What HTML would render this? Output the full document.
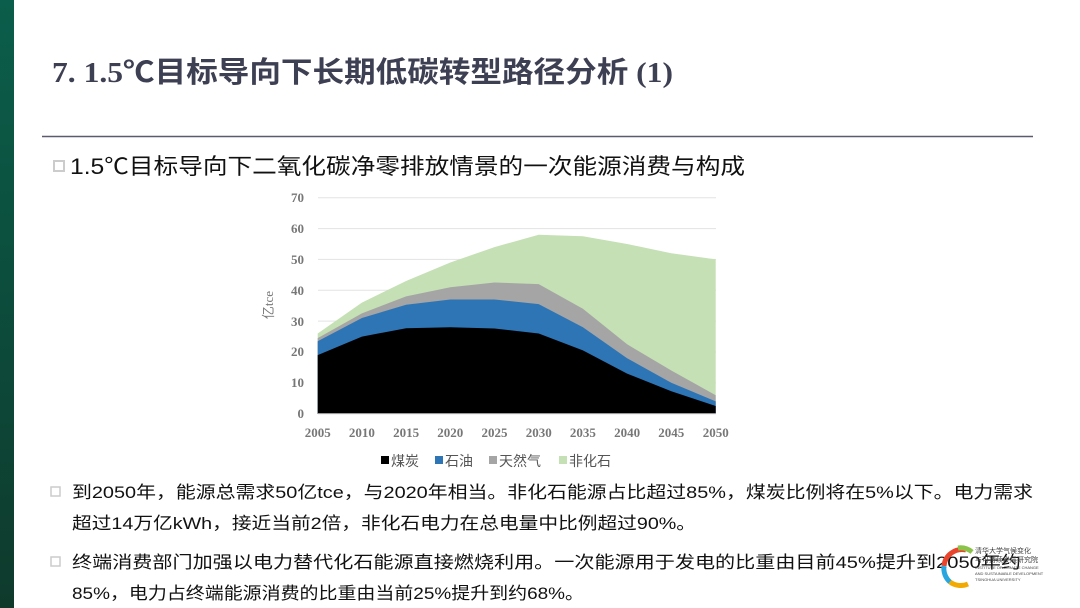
<!DOCTYPE html>
<html><head><meta charset="utf-8"><style>
html,body{margin:0;padding:0;background:#fff;}
svg{display:block;}
.cj{font-family:"Liberation Sans","Noto Sans CJK SC",sans-serif;}
.sf{font-family:"Liberation Serif","Noto Sans CJK SC",serif;}
</style></head><body>
<svg width="1080" height="608" viewBox="0 0 1080 608" xmlns="http://www.w3.org/2000/svg">
<defs><linearGradient id="g" x1="0" y1="0" x2="0" y2="1"><stop offset="0" stop-color="#0b5e4b"/><stop offset="1" stop-color="#0e3a2c"/></linearGradient></defs>
<rect x="0" y="0" width="14" height="608" fill="url(#g)"/>
<text class="sf" x="52" y="82" font-size="29" font-weight="bold" fill="#3d3f52" textLength="621" lengthAdjust="spacingAndGlyphs">7. 1.5℃目标导向下长期低碳转型路径分析 (1)</text>
<line x1="42" y1="136.5" x2="1033" y2="136.5" stroke="#5a5c6e" stroke-width="1.5"/>
<rect x="54" y="161" width="10" height="10" fill="none" stroke="#ccc" stroke-width="2"/>
<text class="cj" x="70" y="174" font-size="22" fill="#111" textLength="675" lengthAdjust="spacingAndGlyphs">1.5℃目标导向下二氧化碳净零排放情景的一次能源消费与构成</text>
<g stroke="#e3e3e3" stroke-width="1">
<line x1="318" y1="197.7" x2="716" y2="197.7"/><line x1="318" y1="228.6" x2="716" y2="228.6"/>
<line x1="318" y1="259.4" x2="716" y2="259.4"/><line x1="318" y1="290.3" x2="716" y2="290.3"/>
<line x1="318" y1="321.1" x2="716" y2="321.1"/><line x1="318" y1="352" x2="716" y2="352"/>
<line x1="318" y1="382.9" x2="716" y2="382.9"/>
</g>
<polygon fill="#c5e0b4" points="317.7,413.7 317.7,333.5 361.9,302.6 406.1,281 450.3,262.5 494.5,247.1 538.7,234.7 582.9,236.3 627.1,244 671.3,253.2 715.7,259.4 715.7,413.7"/>
<polygon fill="#a5a5a5" points="317.7,413.7 317.7,338.1 361.9,313.4 406.1,296.4 450.3,287.2 494.5,282.5 538.7,284.1 582.9,308.8 627.1,344.3 671.3,370.5 715.7,395.2 715.7,413.7"/>
<polygon fill="#2e75b6" points="317.7,413.7 317.7,341.2 361.9,318 406.1,304.8 450.3,299.5 494.5,299.5 538.7,304.1 582.9,327.3 627.1,358.2 671.3,382.8 715.7,401.4 715.7,413.7"/>
<polygon fill="#000" points="317.7,413.7 317.7,355.1 361.9,336.6 406.1,328.2 450.3,327.3 494.5,328.5 538.7,333.5 582.9,350.4 627.1,373.6 671.3,391.2 715.7,406 715.7,413.7"/>
<line x1="318" y1="413.7" x2="716" y2="413.7" stroke="#ccc"/>
<g class="sf" font-size="13" font-weight="bold" fill="#777" text-anchor="end">
<text x="304" y="202">70</text><text x="304" y="233">60</text><text x="304" y="264">50</text>
<text x="304" y="295">40</text><text x="304" y="326">30</text><text x="304" y="356">20</text>
<text x="304" y="387">10</text><text x="304" y="418">0</text>
</g>
<g class="sf" font-size="13" font-weight="bold" fill="#777" text-anchor="middle">
<text x="317.7" y="437">2005</text><text x="361.9" y="437">2010</text><text x="406.1" y="437">2015</text>
<text x="450.3" y="437">2020</text><text x="494.5" y="437">2025</text><text x="538.7" y="437">2030</text>
<text x="582.9" y="437">2035</text><text x="627.1" y="437">2040</text><text x="671.3" y="437">2045</text>
<text x="715.7" y="437">2050</text>
</g>
<text class="sf" font-size="13" fill="#777" transform="translate(273,305) rotate(-90)" text-anchor="middle">亿tce</text>
<g class="cj" font-size="14" fill="#555">
<rect x="381" y="456" width="8" height="8" fill="#000"/><text x="391" y="466">煤炭</text>
<rect x="435" y="456" width="8" height="8" fill="#2e75b6"/><text x="445" y="466">石油</text>
<rect x="489" y="456" width="8" height="8" fill="#a5a5a5"/><text x="499" y="466">天然气</text>
<rect x="559" y="456" width="8" height="8" fill="#c5e0b4"/><text x="569" y="466">非化石</text>
</g>
<g fill="none" stroke="#ccc" stroke-width="1.5">
<rect x="51" y="487" width="9" height="9"/><rect x="51" y="557" width="9" height="9"/>
</g>
<g class="cj" font-size="17" fill="#111">
<text x="72" y="498" textLength="961" lengthAdjust="spacingAndGlyphs">到2050年，能源总需求50亿tce，与2020年相当。非化石能源占比超过85%，煤炭比例将在5%以下。电力需求</text>
<text x="72" y="529" textLength="624" lengthAdjust="spacingAndGlyphs">超过14万亿kWh，接近当前2倍，非化石电力在总电量中比例超过90%。</text>
<text x="72" y="568" textLength="949" lengthAdjust="spacingAndGlyphs">终端消费部门加强以电力替代化石能源直接燃烧利用。一次能源用于发电的比重由目前45%提升到2050年约</text>
<text x="72" y="599" textLength="512" lengthAdjust="spacingAndGlyphs">85%，电力占终端能源消费的比重由当前25%提升到约68%。</text>
</g>
<g fill="none" stroke-width="5">
<path d="M966 550 A18 18 0 0 0 944 566" stroke="#e8452c"/>
<path d="M944 566 A18 18 0 0 0 950 582" stroke="#2aa6df"/>
<path d="M950 582 A18 18 0 0 0 968 584" stroke="#f2a900"/>
<path d="M958 548 A18 18 0 0 1 972 552" stroke="#8bc34a"/>
</g>
<g class="cj" fill="#444">
<text x="975" y="553" font-size="7">清华大学气候变化</text>
<text x="975" y="562" font-size="7">与可持续发展研究院</text>
<text x="975" y="569" font-size="4">INSTITUTE OF CLIMATE CHANGE</text>
<text x="975" y="575" font-size="4">AND SUSTAINABLE DEVELOPMENT</text>
<text x="975" y="581" font-size="4">TSINGHUA UNIVERSITY</text>
</g>
</svg>
</body></html>
